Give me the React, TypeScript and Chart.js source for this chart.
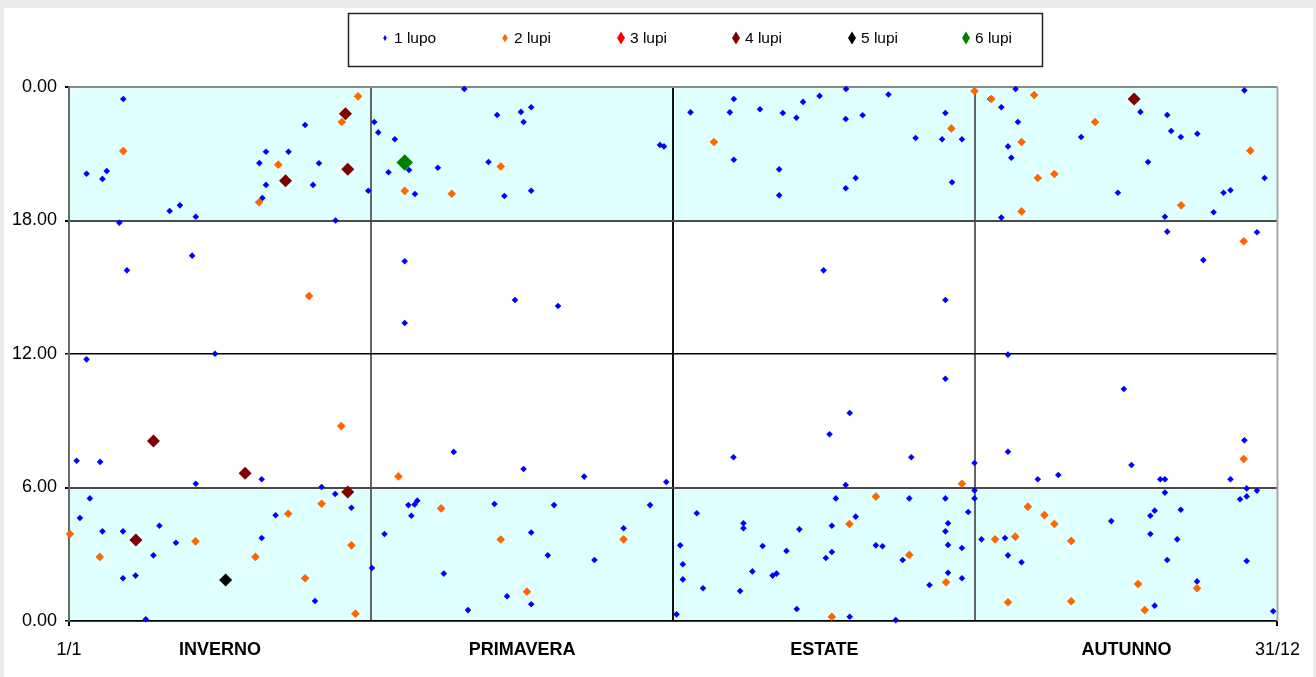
import React, { useEffect, useRef } from 'react';
import { Chart, registerables } from 'chart.js';

Chart.register(...registerables);

// ---------- DATA ----------
const seriesLabels = ['1 lupo', '2 lupi', '3 lupi', '4 lupi', '5 lupi', '6 lupi'];

// [day of year, hour of day]
const lupi1: number[][] = [
  [16.4, 23.46], [71.3, 22.29], [59.5, 21.09], [66.3, 21.09], [57.5, 20.58], [75.5, 20.57], [5.3, 20.1], [11.4, 20.22],
  [10.1, 19.87], [59.5, 19.6], [73.7, 19.6], [90.4, 19.34], [58.4, 19.01], [33.5, 18.68], [30.4, 18.43], [38.3, 18.17],
  [15.2, 17.9], [80.5, 18.0], [37.2, 16.42], [17.5, 15.76], [44.1, 12.01], [5.3, 11.76],
  [2.3, 7.2], [9.4, 7.15], [38.3, 6.17], [58.2, 6.37], [76.3, 6.02], [80.4, 5.71], [85.3, 5.09], [6.3, 5.51],
  [3.3, 4.63], [10.1, 4.03], [16.3, 4.03], [27.3, 4.28], [62.4, 4.75], [32.3, 3.52], [58.2, 3.73], [25.5, 2.95],
  [16.3, 1.92], [20.1, 2.04], [74.3, 0.9], [23.2, 0.08], [91.5, 2.38],
  [119.4, 23.91], [129.3, 22.74], [136.5, 22.88], [139.6, 23.09], [137.3, 22.43], [92.2, 22.43], [93.4, 21.96],
  [98.4, 21.65], [178.5, 21.39], [179.7, 21.33], [126.7, 20.63], [111.4, 20.37], [102.7, 20.27], [96.5, 20.17],
  [104.5, 19.19], [131.5, 19.1], [139.6, 19.34], [101.4, 16.17], [101.4, 13.39], [134.7, 14.43], [147.7, 14.16],
  [116.2, 7.6], [137.3, 6.83], [155.6, 6.49], [180.4, 6.25], [102.5, 5.21], [104.4, 5.24], [105.2, 5.41], [103.4, 4.73],
  [128.5, 5.26], [146.5, 5.21], [175.5, 5.21], [95.3, 3.91], [139.6, 3.98], [167.5, 4.17], [144.6, 2.95], [158.7, 2.74],
  [113.2, 2.13], [132.3, 1.11], [139.6, 0.75], [120.5, 0.49],
  [187.7, 22.86], [200.8, 23.46], [199.6, 22.86], [208.7, 23.0], [215.6, 22.83], [219.7, 22.62], [221.7, 23.33],
  [226.7, 23.6], [234.7, 23.91], [234.6, 22.56], [239.7, 22.73], [247.5, 23.66], [264.7, 22.83], [255.7, 21.71],
  [263.7, 21.65], [269.7, 21.65], [200.8, 20.73], [214.5, 20.3], [214.5, 19.13], [237.6, 19.91], [234.6, 19.45],
  [266.7, 19.72], [227.9, 15.76], [264.7, 14.43],
  [264.7, 10.89], [235.8, 9.35], [229.7, 8.39], [200.7, 7.36], [254.4, 7.36], [273.5, 7.1], [234.6, 6.11], [273.5, 5.87],
  [273.5, 5.51], [231.6, 5.51], [253.8, 5.51], [264.7, 5.51], [271.6, 4.9], [189.6, 4.84], [237.6, 4.69], [203.7, 4.39],
  [203.7, 4.17], [230.4, 4.28], [265.5, 4.39], [264.7, 4.03], [220.6, 4.12], [275.6, 3.67], [184.6, 3.4], [209.5, 3.37],
  [216.7, 3.15], [243.7, 3.4], [245.7, 3.36], [265.5, 3.42], [269.7, 3.28], [230.4, 3.1], [228.6, 2.83], [251.8, 2.74],
  [185.4, 2.55], [206.4, 2.23], [212.5, 2.04], [213.7, 2.13], [265.5, 2.17], [269.7, 1.92], [185.4, 1.87], [191.5, 1.47],
  [202.7, 1.35], [259.9, 1.62], [219.8, 0.54], [183.5, 0.3], [235.8, 0.19], [249.7, 0.04],
  [285.9, 23.91], [355, 23.85], [278.2, 23.46], [281.6, 23.09], [286.6, 22.43], [323.6, 22.88], [331.7, 22.74],
  [332.9, 22.02], [335.8, 21.75], [340.8, 21.9], [305.7, 21.75], [283.6, 21.33], [284.6, 20.82], [325.9, 20.63],
  [361.1, 19.91], [316.8, 19.25], [348.7, 19.25], [350.8, 19.36], [345.7, 18.37], [281.6, 18.13], [331, 18.17],
  [331.7, 17.5], [358.8, 17.47], [342.6, 16.22], [283.6, 11.97],
  [318.6, 10.43], [355, 8.12], [283.6, 7.61], [320.9, 7.01], [292.6, 6.37], [298.8, 6.56], [329.6, 6.37], [331, 6.37],
  [350.8, 6.37], [355.7, 5.96], [358.8, 5.86], [355.7, 5.6], [353.7, 5.47], [331, 5.77], [335.8, 5.0], [327.9, 4.96],
  [326.6, 4.73], [314.8, 4.49], [326.6, 3.91], [334.7, 3.67], [282.7, 3.73], [283.6, 2.95], [287.7, 2.64], [331.7, 2.74],
  [355.7, 2.7], [340.7, 1.78], [327.9, 0.69], [363.7, 0.44],
];

const lupi2: number[][] = [
  [87.3, 23.58], [82.4, 22.43], [16.4, 21.12], [63.2, 20.51], [57.4, 18.82], [72.5, 14.61],
  [82.2, 8.76], [0.3, 3.91], [9.3, 2.88], [38.2, 3.58], [56.3, 2.88], [66.2, 4.82], [76.3, 5.27], [85.3, 3.4],
  [71.3, 1.92], [86.5, 0.33],
  [130.4, 20.43], [101.4, 19.33], [115.6, 19.2],
  [99.5, 6.5], [112.4, 5.06], [130.4, 3.66], [167.5, 3.67], [138.3, 1.32],
  [194.8, 21.53], [266.5, 22.14], [273.5, 23.82],
  [243.7, 5.59], [235.7, 4.36], [253.8, 2.97], [264.9, 1.74], [269.7, 6.17], [230.4, 0.19],
  [278.6, 23.46], [291.5, 23.64], [309.9, 22.43], [287.7, 21.53], [356.8, 21.14], [297.6, 20.09], [292.6, 19.91],
  [335.9, 18.68], [287.7, 18.41], [354.8, 17.07],
  [354.8, 7.28], [289.6, 5.14], [294.6, 4.76], [297.6, 4.36], [279.7, 3.67], [285.8, 3.79], [302.7, 3.6],
  [322.9, 1.66], [340.7, 1.47], [283.6, 0.84], [302.7, 0.89], [324.9, 0.49],
];

const lupi3: number[][] = [];

const lupi4: number[][] = [
  [83.5, 22.8], [65.4, 19.79], [84.2, 20.3], [25.5, 8.09], [53.2, 6.64], [84.2, 5.8], [20.2, 3.64], [321.7, 23.46],
];

const lupi5: number[][] = [[47.3, 1.84]];

const lupi6: number[][] = [[101.4, 20.61]];

const seriesData = [lupi1, lupi2, lupi3, lupi4, lupi5, lupi6];

const xTickValues = [0, 45.625, 91.25, 136.875, 182.5, 228.125, 273.75, 319.375, 365];
const xTickLabels = ['1/1', 'INVERNO', '', 'PRIMAVERA', '', 'ESTATE', '', 'AUTUNNO', '31/12'];
const yTickValues = [0, 6, 12, 18, 24];
const yTickLabels = ['0.00', '6.00', '12.00', '18.00', '0.00'];
const nightBands = [[0, 6], [18, 24]];

// ---------- STYLE ----------
const FONT = "'Liberation Sans', Arial, sans-serif";
const seriesColors = ['#0000ff', '#ff6600', '#ff0000', '#800000', '#000000', '#008000'];
const seriesRadius = [3.3, 4.3, 6.5, 6.5, 6.5, 8.3];
const legendMarkerX = [381, 501, 617, 732, 848, 962];
const legendTextX = [390, 510, 626, 741, 857, 971];
const legendHalfW = [1.8, 2.8, 4, 4, 4, 4];
const legendHalfH = [3, 4.2, 6.5, 6.5, 6.5, 6.5];

const bandsPlugin = {
  id: 'nightBands',
  beforeDraw(chart: any) {
    const { ctx, chartArea: a, scales } = chart;
    const y = scales.y;
    ctx.save();
    ctx.fillStyle = '#e0ffff';
    nightBands.forEach(([lo, hi]) => {
      const y1 = y.getPixelForValue(hi);
      const y2 = y.getPixelForValue(lo);
      ctx.fillRect(a.left, y1, a.right - a.left, y2 - y1);
    });
    ctx.restore();
  },
  beforeDatasetsDraw(chart: any) {
    const { ctx, chartArea: a } = chart;
    ctx.save();
    ctx.strokeStyle = '#a8a8a8';
    ctx.lineWidth = 2;
    ctx.beginPath();
    ctx.moveTo(a.right, a.top);
    ctx.lineTo(a.right, a.bottom);
    ctx.stroke();
    ctx.restore();
  },
};

const boxLegendPlugin = {
  id: 'boxLegend',
  afterDraw(chart: any) {
    const { ctx } = chart;
    ctx.save();
    ctx.strokeStyle = '#222';
    ctx.lineWidth = 1.5;
    ctx.strokeRect(344.5, 5.5, 694, 53);
    const cy = 30;
    chart.data.datasets.forEach((ds: any, i: number) => {
      const cx = legendMarkerX[i];
      ctx.fillStyle = seriesColors[i];
      ctx.beginPath();
      ctx.moveTo(cx, cy - legendHalfH[i]);
      ctx.lineTo(cx + legendHalfW[i], cy);
      ctx.lineTo(cx, cy + legendHalfH[i]);
      ctx.lineTo(cx - legendHalfW[i], cy);
      ctx.closePath();
      ctx.fill();
      ctx.fillStyle = '#000';
      ctx.font = `15.5px ${FONT}`;
      ctx.textAlign = 'left';
      ctx.textBaseline = 'middle';
      ctx.fillText(ds.label, legendTextX[i], cy + 1);
    });
    ctx.restore();
  },
};

export default function App() {
  const canvasRef = useRef<HTMLCanvasElement | null>(null);

  useEffect(() => {
    if (!canvasRef.current) return;
    const chart = new Chart(canvasRef.current, {
      type: 'scatter',
      data: {
        datasets: seriesData.map((d, i) => ({
          label: seriesLabels[i],
          data: d.map(([x, y]) => ({ x, y })),
          pointStyle: 'rectRot',
          pointRadius: seriesRadius[i],
          pointHoverRadius: seriesRadius[i],
          pointBackgroundColor: seriesColors[i],
          backgroundColor: seriesColors[i],
          borderColor: seriesColors[i],
          pointBorderWidth: 0,
          showLine: false,
          clip: false,
          order: 6 - i,
        })),
      },
      options: {
        animation: false,
        responsive: false,
        devicePixelRatio: 1,
        layout: { padding: { top: 79, right: 32, bottom: 0, left: 0 } },
        plugins: {
          legend: { display: false },
          tooltip: { enabled: false },
          title: { display: false },
        },
        scales: {
          x: {
            type: 'linear',
            min: 0,
            max: 365,
            afterBuildTicks: (s: any) => {
              s.ticks = xTickValues.map((v) => ({ value: v }));
            },
            afterFit: (s: any) => {
              s.height = 56;
            },
            ticks: {
              autoSkip: false,
              maxRotation: 0,
              minRotation: 0,
              padding: 13,
              color: '#000',
              font: (c: any) => ({
                family: FONT,
                size: 18,
                weight: c && typeof c.index === 'number' && c.index % 2 === 1 ? 'bold' : 'normal',
              }),
              callback: (_v: any, i: number) => xTickLabels[i],
            },
            grid: {
              color: (c: any) => {
                const v = c.tick ? c.tick.value : -1;
                if (v === 182.5) return '#111';
                if (v === 91.25 || v === 273.75) return '#666';
                return 'rgba(0,0,0,0)';
              },
              lineWidth: 2,
              tickLength: 5,
              tickColor: (c: any) => {
                const v = c.tick ? c.tick.value : -1;
                return v === 0 || v === 365 ? '#000' : 'rgba(0,0,0,0)';
              },
            },
            border: { color: '#000', width: 1.5 },
          },
          y: {
            type: 'linear',
            min: 0,
            max: 24,
            afterBuildTicks: (s: any) => {
              s.ticks = yTickValues.map((v) => ({ value: v }));
            },
            afterFit: (s: any) => {
              s.width = 65;
            },
            ticks: {
              padding: 8,
              color: '#000',
              font: { family: FONT, size: 18 },
              callback: (_v: any, i: number) => yTickLabels[i],
            },
            grid: {
              color: (c: any) => {
                const v = c.tick ? c.tick.value : -1;
                if (v === 24) return '#8a8a8a';
                if (v === 6 || v === 18) return '#4a4a4a';
                return '#000';
              },
              lineWidth: (c: any) => {
                const v = c.tick ? c.tick.value : -1;
                if (v === 6 || v === 18 || v === 24) return 2;
                return 1.5;
              },
              tickLength: 4,
              tickColor: '#000',
            },
            border: { color: '#6a6a6a', width: 2 },
          },
        },
      },
      plugins: [bandsPlugin, boxLegendPlugin],
    } as any);
    return () => chart.destroy();
  }, []);

  return (
    <div>
      <div style={{ position: 'fixed', left: 0, top: 0, right: 0, bottom: 0, background: '#ebebeb' }} />
      <div
        style={{
          position: 'absolute',
          left: 4,
          top: 8,
          width: 1309,
          height: 669,
          background: '#ffffff',
        }}
      >
        <canvas ref={canvasRef} width={1309} height={669} style={{ display: 'block' }} />
      </div>
    </div>
  );
}
